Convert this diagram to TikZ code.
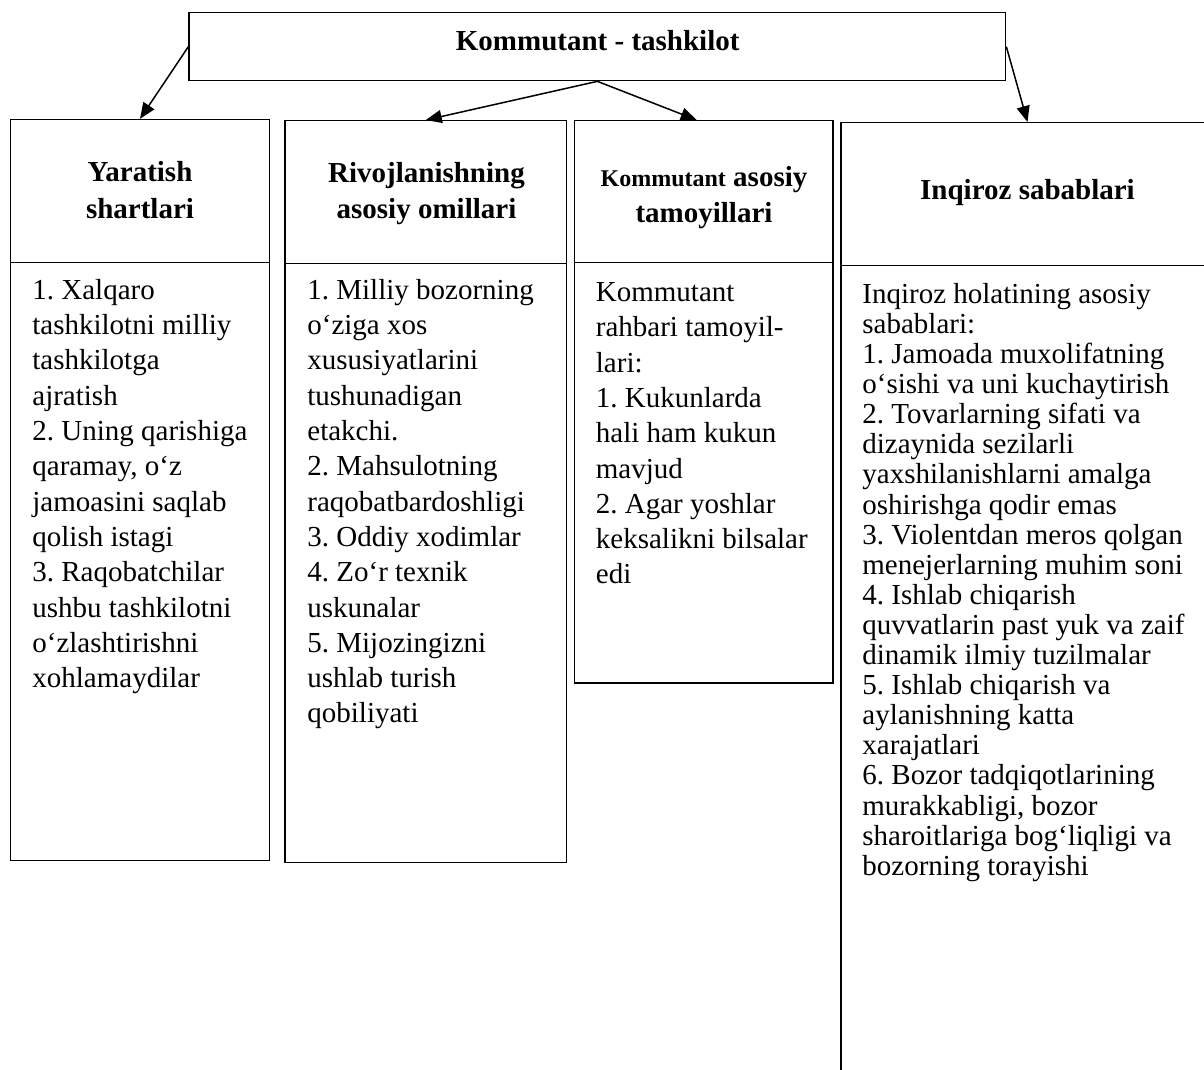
\documentclass[tikz,border=0pt]{standalone}
\usepackage{fontspec}
\setmainfont{Liberation Serif}
\usetikzlibrary{arrows.meta,fit,calc}

\tikzset{
  boxframe/.style={draw=black, line width=0.65pt, inner sep=0pt, rectangle},
  link/.style={draw=black, line width=0.75pt, -{Triangle[length=8pt,width=6.5pt]}},
  bodytext/.style={anchor=base west, inner sep=0pt, font=\fontsize{14.5}{17.65}\selectfont},
  listtext/.style={anchor=base west, inner sep=0pt, font=\fontsize{14.5}{15.05}\selectfont},
  headtext/.style={anchor=base, inner sep=0pt, font=\fontsize{14.5}{18.3}\selectfont\bfseries},
}

\begin{document}
\frenchspacing
\begin{tikzpicture}[x=0.5pt, y=-0.5pt]
  \path[use as bounding box] (0,0) rectangle (1204,1070);
  \fill[white] (0,0) rectangle (1204,1070);
  \clip (0,0) rectangle (1204,1070);

  % title box
  \node[boxframe, fit={(189,12.7) (1005.7,80.7)}] (top) {};
  \node[headtext] (toplabel) at (597.7,50.7) {Kommutant - tashkilot};

  % column frames: heading cell and body cell
  \node[boxframe, fit={(10.7,119.5) (269.3,262.3)}] (h1) {};
  \node[boxframe, fit={(10.7,262.3) (269.3,860.7)}] (b1) {};
  \node[boxframe, fit={(285,120.7) (566.5,263.3)}] (h2) {};
  \node[boxframe, fit={(285,263.3) (566.5,862.7)}] (b2) {};
  \node[boxframe, fit={(574.5,120.7) (833,262.3)}] (h3) {};
  \node[boxframe, fit={(574.5,262.3) (833,683)}] (b3) {};
  \node[boxframe, fit={(841,122.7) (1214,265.5)}] (h4) {};
  \node[boxframe, fit={(841,265.5) (1214,1110)}] (b4) {};

  % headings
  \node[headtext] (h1t) at (140,181.7)
    {\parbox[t]{120pt}{\centering Yaratish\\shartlari}};
  \node[headtext] (h2t) at (426.5,182.3)
    {\parbox[t]{135pt}{\centering Rivojlanishning\\asosiy omillari}};
  \node[headtext] (h3t) at (704,186)
    {\parbox[t]{125pt}{\centering {\fontsize{12}{18.3}\selectfont Kommutant} asosiy\\tamoyillari}};
  \node[headtext] (h4t) at (1027.5,199.3) {Inqiroz sabablari};

  % body texts
  \node[bodytext] (b1t) at (32,299.3) {\parbox[t]{125pt}{\raggedright
    1. Xalqaro\\
    tashkilotni milliy\\
    tashkilotga\\
    ajratish\\
    2. Uning qarishiga\\
    qaramay, o‘z\\
    jamoasini saqlab\\
    qolish istagi\\
    3. Raqobatchilar\\
    ushbu tashkilotni\\
    o‘zlashtirishni\\
    xohlamaydilar}};

  \node[bodytext] (b2t) at (307,299.3) {\parbox[t]{135pt}{\raggedright
    1. Milliy bozorning\\
    o‘ziga xos\\
    xususiyatlarini\\
    tushunadigan\\
    etakchi.\\
    2. Mahsulotning\\
    raqobatbardoshligi\\
    3. Oddiy xodimlar\\
    4. Zo‘r texnik\\
    uskunalar\\
    5. Mijozingizni\\
    ushlab turish\\
    qobiliyati}};

  \node[bodytext] (b3t) at (595.5,301.5) {\parbox[t]{125pt}{\raggedright
    Kommutant\\
    rahbari tamoyil-\\
    lari:\\
    1. Kukunlarda\\
    hali ham kukun\\
    mavjud\\
    2. Agar yoshlar\\
    keksalikni bilsalar\\
    edi}};

  \node[listtext] (b4t) at (862,303.3) {\parbox[t]{175pt}{\raggedright
    Inqiroz holatining asosiy\\
    sabablari:\\
    1. Jamoada muxolifatning\\
    o‘sishi va uni kuchaytirish\\
    2. Tovarlarning sifati va\\
    dizaynida sezilarli\\
    yaxshilanishlarni amalga\\
    oshirishga qodir emas\\
    3. Violentdan meros qolgan\\
    menejerlarning muhim soni\\
    4. Ishlab chiqarish\\
    quvvatlarin past yuk va zaif\\
    dinamik ilmiy tuzilmalar\\
    5. Ishlab chiqarish va\\
    aylanishning katta\\
    xarajatlari\\
    6. Bozor tadqiqotlarining\\
    murakkabligi, bozor\\
    sharoitlariga bog‘liqligi va\\
    bozorning torayishi}};

  % arrows from the title box to the columns
  \draw[link] (top.west) -- (h1.north);
  \draw[link] (top.south) -- (h2.north);
  \draw[link] (top.south) -- ([xshift=-3.5pt]h3.north);
  \draw[link] (top.east) -- (h4.north);
\end{tikzpicture}
\end{document}
